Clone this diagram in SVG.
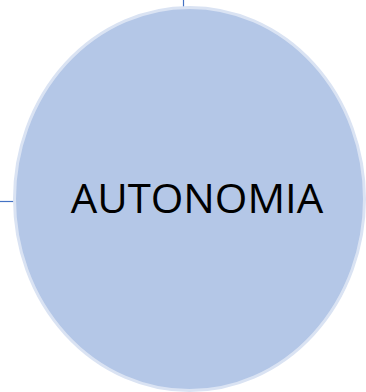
<svg xmlns="http://www.w3.org/2000/svg" width="366" height="392" viewBox="0 0 366 392">
<style>
.conn{stroke:#4472C4;stroke-width:1.2;fill:none}
.node{fill:#B4C7E7;stroke:#DAE3F3;stroke-width:3}
.lbl{font-family:"Open Sans","Liberation Sans",Arial,sans-serif;font-size:40.5px;fill:#000}
</style>
<rect width="366" height="392" fill="#fff"/>
<g id="connectors">
<line class="conn" x1="183.5" y1="0" x2="183.5" y2="8"/>
<line class="conn" x1="0" y1="201.5" x2="15" y2="201.5"/>
</g>
<g id="autonomia">
<ellipse class="node" cx="189.5" cy="199" rx="175" ry="191.5"/>
<text class="lbl" x="70.7" y="213.3" textLength="252.6" lengthAdjust="spacingAndGlyphs">AUTONOMIA</text>
</g>
</svg>
